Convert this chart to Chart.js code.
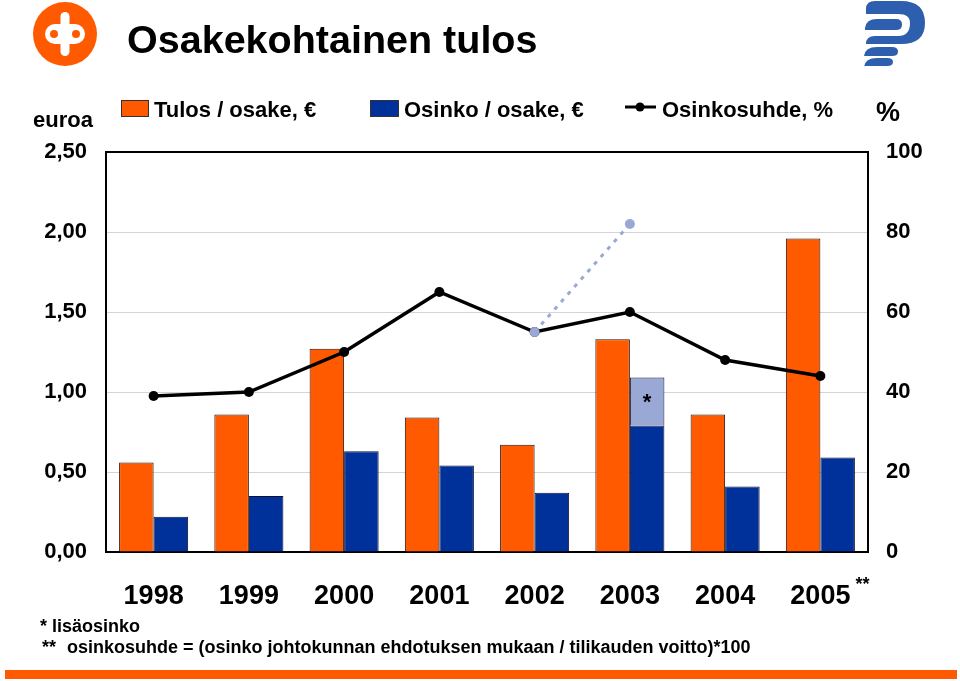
<!DOCTYPE html>
<html>
<head>
<meta charset="utf-8">
<script src="https://cdn.jsdelivr.net/npm/chart.js@4"></script>
<style>
  html, body { margin: 0; padding: 0; background: #fff; }
  body { width: 960px; height: 681px; overflow: hidden; position: relative; }
  #c { position: absolute; left: 0; top: 0; }
  #ov { position: absolute; left: 0; top: 0; pointer-events: none; }
  #ov text { font-family: "Liberation Sans", Arial, sans-serif; font-weight: bold; fill: #000; }
</style>
</head>
<body>
<canvas id="c" width="960" height="681"></canvas>
<svg id="ov" width="960" height="681" viewBox="0 0 960 681">
  <!-- OP logo -->
  <circle cx="65" cy="34" r="32" fill="#ff5a00"/>
  <rect x="45" y="24" width="40" height="20" rx="10" ry="10" fill="#fff"/>
  <rect x="60.5" y="12" width="9" height="44" rx="4.5" ry="4.5" fill="#fff"/>
  <circle cx="54" cy="34" r="4" fill="#ff5a00"/>
  <circle cx="76" cy="34" r="4" fill="#ff5a00"/>
  <!-- Pohjola logo -->
  <g fill="#2d5fae">
    <path d="M866 9 Q866 1 875 1 H901 Q925 1 925 23 Q925 44 901 44 H866 Q866 36 875 36 H898 Q910 36 910 23 Q910 14 898 14 H866 Z"/>
    <path d="M865 28 Q866 19 877 19 H896 Q902 19 902 24.5 Q902 30 896 30 H865 Z"/>
    <path d="M864 56 Q865 47 877 47 H892 Q898 47 898 51.5 Q898 56 892 56 H864 Z"/>
    <path d="M864 67 Q865 58 877 58 H887 Q893 58 893 62 Q893 66 887 66 H864 Z"/>
  </g>
  <text x="127" y="53" font-size="39.5">Osakekohtainen tulos</text>
  <!-- legend -->
  <rect x="121.5" y="100.5" width="27" height="16" fill="#ff5a00" stroke="#333" stroke-width="1"/>
  <text x="154" y="117" font-size="22">Tulos / osake, €</text>
  <rect x="370.5" y="100.5" width="28" height="16" fill="#00309a" stroke="#333" stroke-width="1"/>
  <text x="404" y="117" font-size="22">Osinko / osake, €</text>
  <line x1="625" y1="107" x2="656" y2="107" stroke="#000" stroke-width="3"/>
  <circle cx="640" cy="107" r="4.5" fill="#000"/>
  <text x="662" y="117" font-size="22">Osinkosuhde, %</text>
  <text x="33" y="127" font-size="22">euroa</text>
  <text x="876" y="121" font-size="27">%</text>
  <!-- footnotes -->
  <text x="40" y="632" font-size="18">* lisäosinko</text>
  <text x="42" y="653" font-size="18">**</text>
  <text x="67" y="653" font-size="18">osinkosuhde = (osinko johtokunnan ehdotuksen mukaan / tilikauden voitto)*100</text>
  <rect x="5" y="670" width="952" height="9" fill="#ff5a00"/>
</svg>
<script>
// ---- data ----
const years = ['1998', '1999', '2000', '2001', '2002', '2003', '2004', '2005'];
const earningsPerShare = [0.56, 0.86, 1.27, 0.84, 0.67, 1.33, 0.86, 1.96];
const dividendPerShare = [0.22, 0.35, 0.63, 0.54, 0.37, 0.79, 0.41, 0.59];
const extraDividend = [null, null, null, null, null, 0.30, null, null];
const payoutRatio = [39, 40, 50, 65, 55, 60, 48, 44];
const payoutRatioWithExtra = [null, null, null, null, 55, 82, null, null];
const leftTicks = [0, 0.5, 1, 1.5, 2, 2.5];
const rightTicks = [0, 20, 40, 60, 80, 100];

const ORANGE = '#ff5a00';
const BLUE = '#00309a';
const LIGHTBLUE = '#9aa8d6';
const FONT = '"Liberation Sans", Arial, sans-serif';

const boxPlugin = {
  id: 'boxPlugin',
  beforeDatasetsDraw(chart) {
    const a = chart.chartArea, ctx = chart.ctx;
    ctx.save();
    ctx.strokeStyle = '#000';
    ctx.lineWidth = 2;
    ctx.strokeRect(a.left, a.top, a.right - a.left, a.bottom - a.top);
    ctx.restore();
  },
  afterDatasetsDraw(chart) {
    const ctx = chart.ctx;
    ctx.save();
    ctx.fillStyle = '#000';
    ctx.font = 'bold 22px ' + FONT;
    ctx.textAlign = 'center';
    ctx.textBaseline = 'middle';
    const meta = chart.getDatasetMeta(4);
    extraDividend.forEach((v, i) => {
      if (v == null) return;
      const el = meta.data[i];
      ctx.fillText('*', el.x, (el.y + el.base) / 2 + 1);
    });
    // ** after last year label
    const xs = chart.scales.x;
    const last = years.length - 1;
    ctx.font = 'bold 18px ' + FONT;
    ctx.textAlign = 'left';
    ctx.textBaseline = 'alphabetic';
    ctx.fillText('**', xs.getPixelForValue(last) + 35, 590);
    ctx.restore();
  }
};

new Chart(document.getElementById('c'), {
  type: 'bar',
  data: {
    labels: years,
    datasets: [
      {
        type: 'line', label: 'Osinkosuhde lisäosingolla', data: payoutRatioWithExtra, yAxisID: 'y2',
        borderColor: LIGHTBLUE, borderWidth: 3, borderDash: [4, 6], pointRadius: 5,
        pointBackgroundColor: LIGHTBLUE, pointBorderColor: LIGHTBLUE, pointBorderWidth: 0, order: 0, spanGaps: false
      },
      {
        type: 'line', label: 'Osinkosuhde, %', data: payoutRatio, yAxisID: 'y2',
        borderColor: '#000', borderWidth: 3.5, pointRadius: 5,
        pointBackgroundColor: '#000', pointBorderColor: '#000', pointBorderWidth: 0, order: 1
      },
      {
        label: 'Tulos / osake, €', data: earningsPerShare, yAxisID: 'y', stack: 't',
        backgroundColor: ORANGE, borderColor: '#2a1208', borderWidth: 1, order: 2
      },
      {
        label: 'Osinko / osake, €', data: dividendPerShare, yAxisID: 'y', stack: 'o',
        backgroundColor: BLUE, borderColor: '#101030', borderWidth: 1, order: 2
      },
      {
        label: 'Lisäosinko', data: extraDividend, yAxisID: 'y', stack: 'o',
        backgroundColor: LIGHTBLUE, borderColor: '#101030', borderWidth: 1, order: 2
      }
    ]
  },
  options: {
    responsive: false,
    animation: false,
    devicePixelRatio: 1,
    layout: { padding: { left: 0, right: 0, top: 152, bottom: 0 } },
    plugins: { legend: { display: false }, tooltip: { enabled: false } },
    datasets: { bar: { categoryPercentage: 0.725, barPercentage: 1 } },
    scales: {
      x: {
        grid: { display: false, drawTicks: false },
        border: { display: false },
        ticks: { font: { family: FONT, size: 27, weight: 'bold' }, color: '#000', padding: 28, maxRotation: 0 },
        afterFit(s) { s.height = 129; }
      },
      y: {
        position: 'left', stacked: true, min: 0, max: 2.5,
        afterBuildTicks(s) { s.ticks = leftTicks.map(v => ({ value: v })); },
        grid: { color: '#d4d4d4', lineWidth: 1, drawTicks: false },
        border: { display: false },
        ticks: {
          font: { family: FONT, size: 22, weight: 'bold' }, color: '#000', padding: 19,
          callback: v => Number(v).toFixed(2).replace('.', ',')
        },
        afterFit(s) { s.width = 106; }
      },
      y2: {
        position: 'right', stacked: false, min: 0, max: 100,
        afterBuildTicks(s) { s.ticks = rightTicks.map(v => ({ value: v })); },
        grid: { display: false, drawTicks: false },
        border: { display: false },
        ticks: { font: { family: FONT, size: 22, weight: 'bold' }, color: '#000', padding: 18 },
        afterFit(s) { s.width = 92; }
      }
    }
  },
  plugins: [boxPlugin]
});
</script>
</body>
</html>
